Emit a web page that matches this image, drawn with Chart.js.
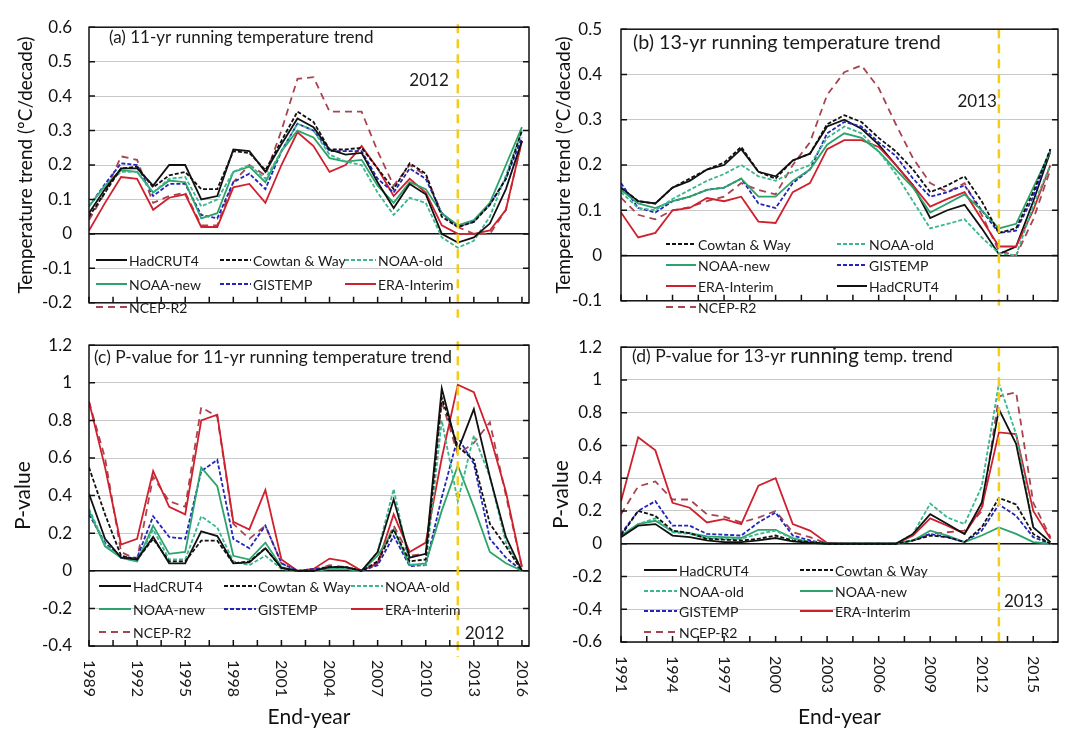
<!DOCTYPE html>
<html>
<head>
<meta charset="utf-8">
<script src="https://cdn.jsdelivr.net/npm/chart.js@4.4.1/dist/chart.umd.min.js"></script>
<style>
  html, body { margin: 0; padding: 0; background: #fff; }
  body { width: 1065px; height: 733px; position: relative; overflow: hidden; }
  canvas { position: absolute; }
  #cA { left: 0; top: 0; }
  #cB { left: 540px; top: 0; }
  #cC { left: 0; top: 318px; }
  #cD { left: 540px; top: 318px; }
</style>
</head>
<body>
<canvas id="cA" width="540" height="330"></canvas>
<canvas id="cB" width="525" height="330"></canvas>
<canvas id="cC" width="540" height="415"></canvas>
<canvas id="cD" width="525" height="415"></canvas>
<script>
// end-years
const years11 = [1989, 1990, 1991, 1992, 1993, 1994, 1995, 1996, 1997, 1998, 1999, 2000, 2001, 2002,
  2003, 2004, 2005, 2006, 2007, 2008, 2009, 2010, 2011, 2012, 2013, 2014, 2015, 2016];
const years13 = [1991, 1992, 1993, 1994, 1995, 1996, 1997, 1998, 1999, 2000, 2001, 2002, 2003,
  2004, 2005, 2006, 2007, 2008, 2009, 2010, 2011, 2012, 2013, 2014, 2015, 2016];
const xLabels11 = [1989, 1992, 1995, 1998, 2001, 2004, 2007, 2010, 2013, 2016];
const xLabels13 = [1991, 1994, 1997, 2000, 2003, 2006, 2009, 2012, 2015];

// (a) 11-yr running trend, degC/decade
const hadcrutTrend11 = [0.06, 0.13, 0.19, 0.19, 0.14, 0.2, 0.2, 0.1, 0.11, 0.245, 0.24, 0.18, 0.26, 0.335,
  0.31, 0.245, 0.23, 0.235, 0.15, 0.075, 0.145, 0.115, 0.0, -0.025, -0.01, 0.03, 0.13, 0.27];
const cowtanTrend11 = [0.05, 0.12, 0.19, 0.195, 0.135, 0.17, 0.18, 0.13, 0.13, 0.24, 0.235, 0.185, 0.27, 0.355,
  0.325, 0.245, 0.245, 0.25, 0.19, 0.13, 0.205, 0.175, 0.05, 0.02, 0.035, 0.085, 0.16, 0.3];
const noaaOldTrend11 = [0.08, 0.14, 0.18, 0.18, 0.12, 0.16, 0.165, 0.08, 0.1, 0.18, 0.2, 0.16, 0.24, 0.32,
  0.3, 0.23, 0.21, 0.2, 0.12, 0.055, 0.105, 0.09, -0.01, -0.04, -0.02, 0.05, 0.17, 0.3];
const noaaNewTrend11 = [0.08, 0.14, 0.185, 0.18, 0.12, 0.155, 0.15, 0.045, 0.06, 0.18, 0.195, 0.15, 0.24, 0.3,
  0.28, 0.22, 0.21, 0.215, 0.14, 0.09, 0.15, 0.13, 0.06, 0.025, 0.04, 0.09, 0.2, 0.31];
const gistempTrend11 = [0.08, 0.145, 0.205, 0.2, 0.11, 0.145, 0.145, 0.055, 0.045, 0.15, 0.175, 0.13, 0.24, 0.32,
  0.3, 0.24, 0.24, 0.24, 0.16, 0.12, 0.19, 0.16, 0.06, 0.02, 0.035, 0.085, 0.16, 0.28];
const eraTrend11 = [0.01, 0.09, 0.165, 0.16, 0.07, 0.105, 0.115, 0.02, 0.02, 0.135, 0.145, 0.09, 0.2, 0.295,
  0.255, 0.18, 0.2, 0.255, 0.19, 0.11, 0.16, 0.12, 0.025, 0.0, 0.0, 0.01, 0.07, 0.27];
const ncepTrend11 = [0.04, 0.12, 0.225, 0.215, 0.09, 0.11, 0.12, 0.025, 0.025, 0.15, 0.2, 0.17, 0.3, 0.45,
  0.455, 0.355, 0.355, 0.355, 0.24, 0.14, 0.2, 0.17, 0.06, 0.02, 0.0, 0.0, 0.07, 0.27];

// (b) 13-yr running trend
const hadcrutTrend13 = [0.15, 0.12, 0.115, 0.15, 0.165, 0.19, 0.2, 0.235, 0.185, 0.175, 0.21, 0.225, 0.285,
  0.3, 0.28, 0.245, 0.2, 0.155, 0.083, 0.1, 0.112, 0.06, 0.003, 0.02, 0.12, 0.23];
const cowtanTrend13 = [0.15, 0.12, 0.115, 0.15, 0.17, 0.19, 0.205, 0.24, 0.185, 0.17, 0.21, 0.225, 0.29,
  0.31, 0.295, 0.26, 0.23, 0.19, 0.14, 0.155, 0.175, 0.12, 0.05, 0.06, 0.14, 0.235];
const noaaOldTrend13 = [0.14, 0.105, 0.1, 0.125, 0.145, 0.165, 0.18, 0.2, 0.175, 0.165, 0.185, 0.2, 0.26,
  0.285, 0.27, 0.23, 0.18, 0.12, 0.06, 0.07, 0.08, 0.04, 0.005, 0.0, 0.11, 0.2];
const noaaNewTrend13 = [0.145, 0.115, 0.105, 0.12, 0.13, 0.145, 0.15, 0.17, 0.13, 0.13, 0.165, 0.19, 0.245,
  0.27, 0.26, 0.23, 0.19, 0.15, 0.095, 0.115, 0.135, 0.1, 0.06, 0.07, 0.15, 0.23];
const gistempTrend13 = [0.16, 0.105, 0.095, 0.12, 0.13, 0.145, 0.15, 0.17, 0.115, 0.105, 0.16, 0.19, 0.27,
  0.295, 0.285, 0.25, 0.22, 0.17, 0.13, 0.14, 0.155, 0.1, 0.05, 0.055, 0.13, 0.235];
const eraTrend13 = [0.095, 0.04, 0.05, 0.1, 0.105, 0.127, 0.12, 0.13, 0.075, 0.072, 0.14, 0.16, 0.235,
  0.255, 0.255, 0.24, 0.2, 0.155, 0.108, 0.125, 0.14, 0.08, 0.02, 0.02, 0.1, 0.2];
const ncepTrend13 = [0.128, 0.09, 0.08, 0.1, 0.107, 0.12, 0.13, 0.16, 0.145, 0.135, 0.2, 0.25, 0.355,
  0.405, 0.42, 0.37, 0.29, 0.215, 0.16, 0.14, 0.16, 0.09, 0.01, 0.0, 0.08, 0.19];

// (c) p-value, 11-yr trend
const hadcrutP11 = [0.41, 0.17, 0.07, 0.06, 0.18, 0.04, 0.04, 0.21, 0.185, 0.04, 0.045, 0.12, 0.015, 0.0,
  0.0, 0.02, 0.02, 0.0, 0.1, 0.38, 0.07, 0.09, 0.97, 0.64, 0.86, 0.5, 0.18, 0.0];
const cowtanP11 = [0.55, 0.3, 0.08, 0.06, 0.17, 0.05, 0.05, 0.16, 0.16, 0.04, 0.05, 0.12, 0.015, 0.0,
  0.0, 0.02, 0.02, 0.0, 0.05, 0.22, 0.05, 0.06, 0.92, 0.66, 0.59, 0.25, 0.13, 0.0];
const noaaOldP11 = [0.33, 0.14, 0.07, 0.05, 0.22, 0.06, 0.06, 0.29, 0.23, 0.05, 0.03, 0.08, 0.01, 0.0,
  0.0, 0.01, 0.01, 0.0, 0.1, 0.435, 0.035, 0.03, 0.8, 0.37, 0.72, 0.5, 0.15, 0.0];
const noaaNewP11 = [0.32, 0.13, 0.07, 0.05, 0.24, 0.09, 0.1, 0.55, 0.45, 0.08, 0.06, 0.15, 0.02, 0.0,
  0.0, 0.01, 0.01, 0.0, 0.08, 0.22, 0.03, 0.04, 0.32, 0.56, 0.34, 0.1, 0.04, 0.0];
const gistempP11 = [0.3, 0.15, 0.07, 0.07, 0.29, 0.18, 0.17, 0.53, 0.59, 0.17, 0.12, 0.24, 0.04, 0.0,
  0.01, 0.02, 0.02, 0.0, 0.03, 0.185, 0.025, 0.03, 0.39, 0.71, 0.57, 0.17, 0.07, 0.0];
const eraP11 = [0.9, 0.55, 0.14, 0.17, 0.53, 0.34, 0.3, 0.8, 0.83, 0.26, 0.22, 0.43, 0.06, 0.0,
  0.01, 0.065, 0.05, 0.0, 0.04, 0.3, 0.1, 0.15, 0.6, 0.99, 0.95, 0.72, 0.42, 0.02];
const ncepP11 = [0.9, 0.6, 0.1, 0.06, 0.5, 0.37, 0.34, 0.87, 0.82, 0.25, 0.17, 0.24, 0.04, 0.0,
  0.0, 0.03, 0.02, 0.0, 0.04, 0.24, 0.08, 0.09, 0.9, 0.62, 0.68, 0.79, 0.4, 0.02];

// (d) p-value, 13-yr trend
const hadcrutP13 = [0.04, 0.11, 0.12, 0.05, 0.04, 0.02, 0.01, 0.01, 0.02, 0.035, 0.015, 0.005, 0.0,
  0.0, 0.0, 0.0, 0.0, 0.06, 0.18, 0.12, 0.06, 0.25, 0.82, 0.61, 0.1, 0.01];
const cowtanP13 = [0.05, 0.2, 0.17, 0.08, 0.065, 0.03, 0.025, 0.02, 0.03, 0.05, 0.02, 0.01, 0.0,
  0.0, 0.0, 0.0, 0.0, 0.02, 0.05, 0.04, 0.01, 0.1, 0.28, 0.24, 0.06, 0.0];
const noaaOldP13 = [0.05, 0.12, 0.155, 0.07, 0.06, 0.035, 0.03, 0.03, 0.06, 0.08, 0.03, 0.01, 0.0,
  0.0, 0.0, 0.0, 0.0, 0.06, 0.245, 0.16, 0.12, 0.35, 0.98, 0.67, 0.1, 0.01];
const noaaNewP13 = [0.05, 0.12, 0.14, 0.075, 0.065, 0.045, 0.04, 0.035, 0.085, 0.085, 0.035, 0.01, 0.0,
  0.0, 0.0, 0.0, 0.0, 0.02, 0.08, 0.05, 0.01, 0.05, 0.1, 0.06, 0.01, 0.0];
const gistempP13 = [0.06, 0.2, 0.26, 0.11, 0.11, 0.06, 0.055, 0.05, 0.13, 0.19, 0.05, 0.02, 0.0,
  0.0, 0.0, 0.0, 0.0, 0.02, 0.06, 0.04, 0.01, 0.08, 0.24, 0.17, 0.04, 0.0];
const eraP13 = [0.26, 0.65, 0.57, 0.25, 0.22, 0.13, 0.15, 0.12, 0.355, 0.4, 0.12, 0.08, 0.005,
  0.0, 0.0, 0.0, 0.0, 0.05, 0.155, 0.11, 0.06, 0.22, 0.68, 0.67, 0.2, 0.03];
const ncepP13 = [0.18, 0.35, 0.38, 0.27, 0.27, 0.18, 0.165, 0.13, 0.16, 0.2, 0.07, 0.04, 0.0,
  0.0, 0.0, 0.0, 0.0, 0.02, 0.06, 0.07, 0.08, 0.2, 0.9, 0.925, 0.25, 0.04];

const styles = {
  'HadCRUT4': { color: '#111111', dash: [] },
  'Cowtan & Way': { color: '#111111', dash: [4, 2] },
  'NOAA-old': { color: '#3bb78f', dash: [4, 2] },
  'NOAA-new': { color: '#2ca36b', dash: [] },
  'GISTEMP': { color: '#2424b8', dash: [4, 2] },
  'ERA-Interim': { color: '#cf202e', dash: [] },
  'NCEP-R2': { color: '#a8444f', dash: [7, 5] }
};

Chart.defaults.font.family = 'Lato, "Open Sans", sans-serif';
Chart.defaults.color = '#111';

function gridPos(cols, rows) {
  const out = [];
  rows.forEach(r => cols.forEach(c => out.push([c, r])));
  return out;
}

function tickRange(first, last, step) {
  const out = [];
  for (let v = first; v <= last + 1e-9; v += step) out.push(+v.toFixed(2));
  return out;
}

const panelFrame = {
  id: 'panelFrame',
  afterDatasetsDraw(chart, args, o) {
    const { ctx, chartArea: ca, scales: { x, y } } = chart;
    const ox = o.offset[0], oy = o.offset[1];
    ctx.save();
    // reference year line
    const rx = x.getPixelForValue(o.refYear);
    ctx.strokeStyle = '#f3cd1b';
    ctx.lineWidth = 2.5;
    ctx.setLineDash([9, 6]);
    ctx.beginPath();
    ctx.moveTo(rx, ca.top - o.refOver[0]);
    ctx.lineTo(rx, ca.bottom + o.refOver[1]);
    ctx.stroke();
    ctx.setLineDash([]);

    // frame and inward ticks
    ctx.strokeStyle = '#111';
    ctx.lineWidth = 1.5;
    ctx.strokeRect(ca.left, ca.top, ca.width, ca.height);
    ctx.beginPath();
    y.ticks.forEach(t => {
      const py = y.getPixelForValue(t.value);
      ctx.moveTo(ca.left, py); ctx.lineTo(ca.left + 6, py);
      ctx.moveTo(ca.right - 6, py); ctx.lineTo(ca.right, py);
    });
    x.ticks.forEach(t => {
      const px = x.getPixelForValue(t.value);
      ctx.moveTo(px, ca.bottom); ctx.lineTo(px, ca.bottom - 6);
    });
    ctx.stroke();

    // legend
    ctx.lineWidth = 2;
    ctx.textBaseline = 'middle';
    ctx.textAlign = 'left';
    ctx.font = '14px Lato, "Open Sans", sans-serif';
    chart.data.datasets.forEach((ds, i) => {
      const [lx, ly] = o.legend[i];
      const px = lx - ox, py = ly - oy;
      ctx.strokeStyle = ds.borderColor;
      ctx.setLineDash(ds.borderDash || []);
      ctx.beginPath();
      ctx.moveTo(px, py); ctx.lineTo(px + o.legendLen, py);
      ctx.stroke();
      ctx.setLineDash([]);
      ctx.fillStyle = '#1a1a1a';
      ctx.fillText(ds.label, px + o.legendLen + 2, py + 1);
    });

    // panel title
    let tx = o.title.x - ox;
    o.title.parts.forEach(([text, size]) => {
      ctx.font = size + 'px Lato, "Open Sans", sans-serif';
      ctx.fillText(text, tx, o.title.y - oy);
      tx += ctx.measureText(text).width;
    });

    // reference year label
    ctx.font = '17px Lato, "Open Sans", sans-serif';
    ctx.textAlign = o.refText.align;
    ctx.fillText(o.refText.text, rx + o.refText.dx, o.refText.y - oy);

    // rotated end-year labels
    if (o.xLabels) {
      ctx.font = '16px Lato, "Open Sans", sans-serif';
      ctx.textAlign = 'left';
      o.xLabels.forEach(v => {
        const px = x.getPixelForValue(v);
        ctx.save();
        ctx.translate(px, ca.bottom + 14);
        ctx.rotate(Math.PI / 2);
        ctx.fillText(String(v), 0, 0);
        ctx.restore();
      });
    }
    ctx.restore();
  }
};

function makePanel(id, cfg) {
  return new Chart(document.getElementById(id), {
    type: 'line',
    data: {
      datasets: cfg.series.map(([label, values]) => ({
        label: label,
        data: cfg.years.map((yr, i) => ({ x: yr, y: values[i] })),
        borderColor: styles[label].color,
        borderDash: styles[label].dash,
        borderWidth: 1.8,
        pointRadius: 0,
        tension: 0,
        fill: false
      }))
    },
    options: {
      responsive: false,
      animation: false,
      devicePixelRatio: 1,
      layout: { padding: { top: cfg.padTop, right: cfg.padRight, bottom: 0, left: 0 } },
      plugins: { legend: { display: false }, tooltip: { enabled: false }, panelFrame: cfg.frame },
      scales: {
        x: {
          type: 'linear',
          min: cfg.years[0],
          max: 2016.44,
          grid: { display: false },
          border: { display: false },
          ticks: { display: false },
          afterBuildTicks: sc => { sc.ticks = cfg.xTicks.map(v => ({ value: v })); },
          afterFit: sc => { sc.height = cfg.xHeight; },
          title: cfg.xTitle
            ? { display: true, text: 'End-year', font: { size: 21 }, color: '#111', padding: { top: 0, bottom: 3 } }
            : { display: false }
        },
        y: {
          min: cfg.yMin,
          max: cfg.yMax,
          ticks: {
            stepSize: cfg.yStep,
            padding: cfg.yPad,
            font: { size: 17 },
            color: '#111',
            callback: v => String(+v.toFixed(2))
          },
          grid: {
            drawTicks: false,
            color: c => Math.abs(c.tick.value) < 1e-9 ? '#111' : '#c9c9c9',
            lineWidth: c => Math.abs(c.tick.value) < 1e-9 ? 1.5 : 1
          },
          border: { display: false },
          afterFit: sc => { sc.width = cfg.yWidth; },
          title: {
            display: true,
            text: cfg.yTitle,
            font: { size: cfg.yTitleSize },
            color: '#111',
            padding: { top: cfg.yTitlePad, bottom: 0 }
          }
        }
      }
    },
    plugins: [panelFrame]
  });
}

const ticks11 = tickRange(xLabels11[0], 2016, 1.5);
const ticks13 = tickRange(xLabels13[0], 2016, 1.5);

makePanel('cA', {
  years: years11,
  series: [['HadCRUT4', hadcrutTrend11], ['Cowtan & Way', cowtanTrend11], ['NOAA-old', noaaOldTrend11],
    ['NOAA-new', noaaNewTrend11], ['GISTEMP', gistempTrend11], ['ERA-Interim', eraTrend11], ['NCEP-R2', ncepTrend11]],
  padTop: 17, padRight: 11, xHeight: 11, yWidth: 89, yPad: 17,
  yMin: -0.2, yMax: 0.6, yStep: 0.1,
  yTitle: 'Temperature trend (\u00baC/decade)', yTitleSize: 19, yTitlePad: 14,
  xTicks: ticks11, xTitle: false,
  frame: {
    offset: [0, 0], refYear: 2012, refOver: [3, 15],
    refText: { text: '2012', align: 'right', dx: -9, y: 81 },
    title: { x: 109, y: 38, parts: [['(a) 11-yr running temperature trend', 17]] },
    legend: gridPos([96, 220, 345], [260, 284, 307]), legendLen: 31
  }
});

makePanel('cB', {
  years: years13,
  series: [['Cowtan & Way', cowtanTrend13], ['NOAA-old', noaaOldTrend13], ['NOAA-new', noaaNewTrend13],
    ['GISTEMP', gistempTrend13], ['ERA-Interim', eraTrend13], ['HadCRUT4', hadcrutTrend13], ['NCEP-R2', ncepTrend13]],
  padTop: 17, padRight: 7, xHeight: 14, yWidth: 81, yPad: 19,
  yMin: -0.1, yMax: 0.5, yStep: 0.1,
  yTitle: 'Temperature trend (\u00baC/decade)', yTitleSize: 19, yTitlePad: 12,
  xTicks: ticks13, xTitle: false,
  frame: {
    offset: [540, 0], refYear: 2013, refOver: [0, 5],
    refText: { text: '2013', align: 'right', dx: -2, y: 102 },
    title: { x: 633, y: 43, parts: [['(b) 13-yr running temperature trend', 19.7]] },
    legend: gridPos([666, 837], [244, 265, 286, 307]), legendLen: 30
  }
});

makePanel('cC', {
  years: years11,
  series: [['HadCRUT4', hadcrutP11], ['Cowtan & Way', cowtanP11], ['NOAA-old', noaaOldP11],
    ['NOAA-new', noaaNewP11], ['GISTEMP', gistempP11], ['ERA-Interim', eraP11], ['NCEP-R2', ncepP11]],
  padTop: 20, padRight: 11, xHeight: 87, yWidth: 89, yPad: 17,
  yMin: -0.4, yMax: 1.2, yStep: 0.2,
  yTitle: 'P-value', yTitleSize: 21, yTitlePad: 11,
  xTicks: ticks11, xTitle: true,
  frame: {
    offset: [0, 318], refYear: 2012, refOver: [4, 11], xLabels: xLabels11,
    refText: { text: '2012', align: 'left', dx: 7, y: 634 },
    title: { x: 94, y: 357, parts: [['(c) P-value for 11-yr running temperature trend', 17.4]] },
    legend: gridPos([99, 224, 351], [586, 609, 632]), legendLen: 32
  }
});

makePanel('cD', {
  years: years13,
  series: [['HadCRUT4', hadcrutP13], ['Cowtan & Way', cowtanP13], ['NOAA-old', noaaOldP13],
    ['NOAA-new', noaaNewP13], ['GISTEMP', gistempP13], ['ERA-Interim', eraP13], ['NCEP-R2', ncepP13]],
  padTop: 19, padRight: 7, xHeight: 91, yWidth: 81, yPad: 19,
  yMin: -0.6, yMax: 1.2, yStep: 0.2,
  yTitle: 'P-value', yTitleSize: 21, yTitlePad: 9,
  xTicks: ticks13, xTitle: true,
  frame: {
    offset: [540, 318], refYear: 2013, refOver: [0, 2], xLabels: xLabels13,
    refText: { text: '2013', align: 'left', dx: 5, y: 602 },
    title: { x: 632, y: 356, parts: [['(d) P-value for 13-yr ', 17.5], ['running', 20.5], [' temp. trend', 17.5]] },
    legend: gridPos([644, 800], [570, 591, 611, 632]), legendLen: 33
  }
});
</script>
</body>
</html>
